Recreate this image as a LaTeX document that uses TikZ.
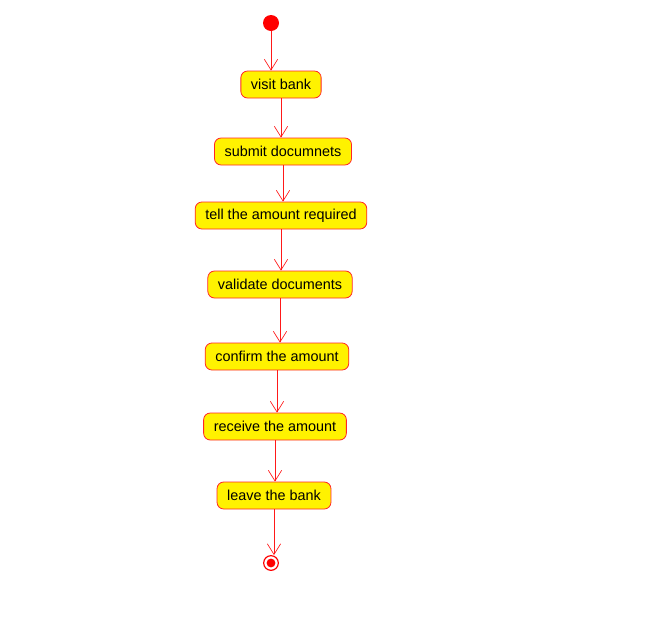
\documentclass[tikz,border=0pt]{standalone}
\usepackage{fontspec}
\setmainfont{Liberation Sans}
\usetikzlibrary{arrows.meta, positioning}

\begin{document}
\begin{tikzpicture}[
    x=0.75pt, y=-0.75pt,
    act/.style={rectangle, rounded corners=5pt, draw=red!85, fill=yellow, line width=0.6pt,
                minimum height=20.25pt, inner xsep=7.6pt, inner ysep=0pt,
                font=\fontsize{10.8}{13}\selectfont},
    initial/.style={circle, fill=red, minimum size=12pt, inner sep=0pt},
    final/.style={circle, draw=red, fill=white, line width=0.9pt, minimum size=11pt, inner sep=0pt,
                  path picture={\fill[red] (path picture bounding box.center) circle (3.3pt);}},
    arr/.style={-{Straight Barb[length=8pt, width=10pt]}, red!90, line width=0.5pt},
]
\useasboundingbox (0,0) rectangle (657,643);

\node[initial] (start) at (271,23) {};
\node[act] (visit) at (281,84.5) {visit bank};
\node[act] (submit) at (283,151.5) {submit documnets};
\node[act] (tell) at (281,215.5) {tell the amount required};
\node[act] (validate) at (280,284.5) {validate documents};
\node[act] (confirm) at (277,356.5) {confirm the amount};
\node[act] (receive) at (275,426.5) {receive the amount};
\node[act] (leave) at (274,495.5) {leave the bank};
\node[final] (stop) at (271,563) {};

\foreach \a/\b in {start/visit, visit/submit, submit/tell, tell/validate, validate/confirm, confirm/receive, receive/leave, leave/stop}
    \draw[arr] (\a) -- (\a |- \b.north);

\end{tikzpicture}
\end{document}
